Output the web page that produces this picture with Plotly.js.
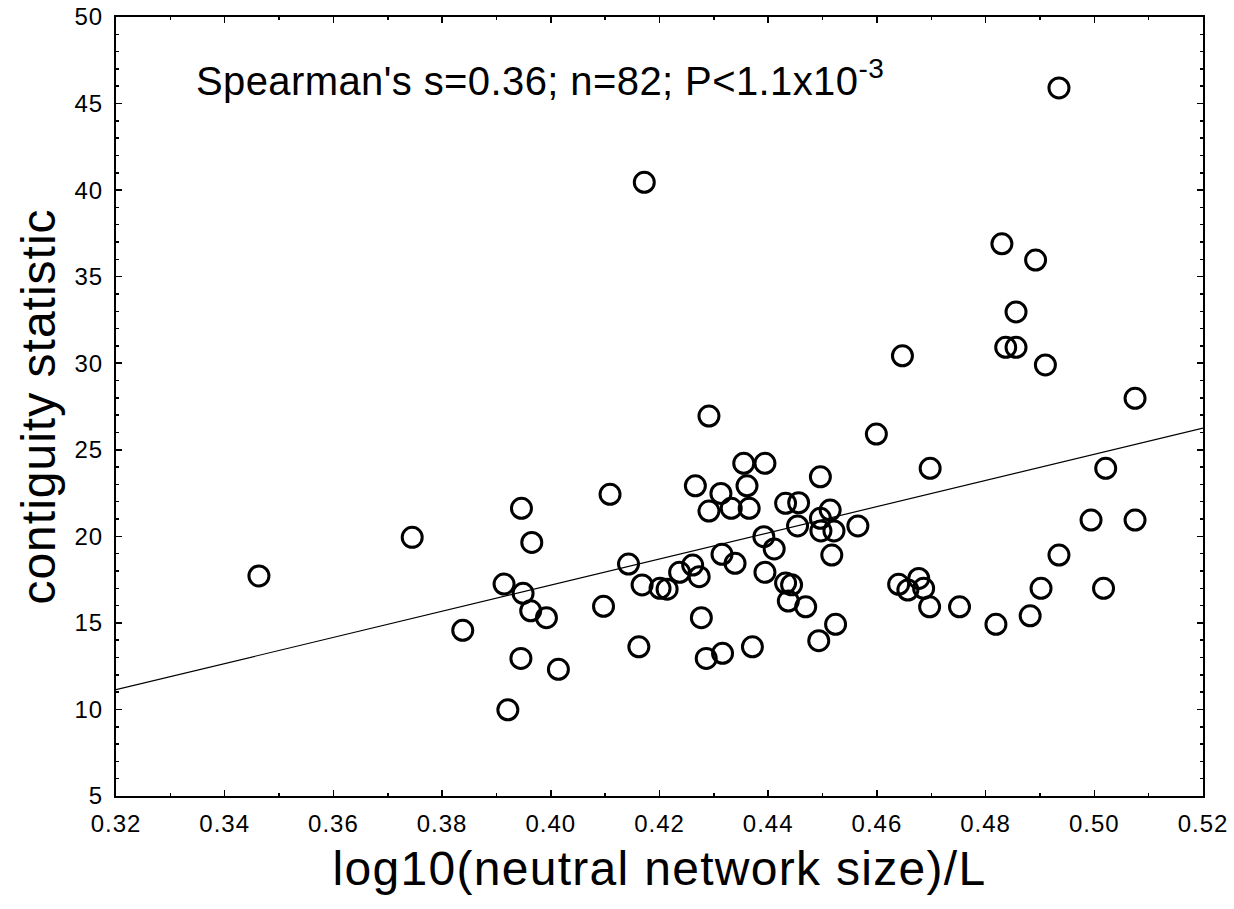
<!DOCTYPE html>
<html>
<head>
<meta charset="utf-8">
<script src="https://cdn.plot.ly/plotly-3.0.1.min.js"></script>
<style>
html,body{margin:0;padding:0;background:#fff;}
#chart{width:1234px;height:909px;}
#chart .xtick text, #chart .ytick text{letter-spacing:1px !important;}
#chart .xtitle{letter-spacing:1.3px !important;}
#chart .ytitle{letter-spacing:1px !important;}
#chart .annotation-text{letter-spacing:0.4px !important;}
</style>
</head>
<body>
<div id="chart"></div>
<script>
// log10(neutral network size)/L
const networkSize = [
  0.4172, 0.3463, 0.3745, 0.3838, 0.3946, 0.3965, 0.3914, 0.3949, 0.3963, 0.3992,
  0.3945, 0.4014, 0.3921, 0.4109, 0.4097, 0.4143, 0.4168, 0.4162, 0.4201, 0.4214,
  0.4830, 0.4892, 0.4856, 0.4837, 0.4856, 0.4910, 0.4647, 0.4291, 0.4599, 0.5075,
  0.4355, 0.4394, 0.4266, 0.4313, 0.4361, 0.4291, 0.4332, 0.4365, 0.4496, 0.4698,
  0.5021, 0.4432, 0.4456, 0.4514, 0.4496, 0.4454, 0.4497, 0.4521, 0.4565, 0.4392,
  0.4411, 0.4517, 0.4315, 0.4339, 0.4261, 0.4237, 0.4273, 0.4394, 0.4432, 0.4443,
  0.4437, 0.4469, 0.4524, 0.4493, 0.4277, 0.4286, 0.4316, 0.4371, 0.4640, 0.4677,
  0.4657, 0.4686, 0.4697, 0.4752, 0.4819, 0.4882, 0.4902, 0.4935, 0.4994, 0.5075,
  0.5017, 0.4935
];
// contiguity statistic
const contiguity = [
  40.45, 17.71, 19.94, 14.57, 21.62, 19.65, 17.24, 16.71, 15.70, 15.30,
  12.95, 12.32, 9.98, 22.43, 15.96, 18.40, 17.19, 13.62, 17.00, 16.95,
  36.90, 35.96, 32.96, 30.92, 30.92, 29.90, 30.43, 26.95, 25.91, 27.97,
  24.22, 24.22, 22.92, 22.48, 22.92, 21.46, 21.62, 21.62, 23.44, 23.93,
  23.93, 21.91, 21.94, 21.52, 21.04, 20.60, 20.31, 20.31, 20.60, 19.98,
  19.27, 18.92, 18.96, 18.44, 18.34, 17.92, 17.67, 17.92, 17.30, 17.20,
  16.26, 15.93, 14.92, 13.97, 15.30, 12.95, 13.24, 13.62, 17.23, 17.57,
  16.90, 17.00, 15.93, 15.93, 14.92, 15.41, 17.00, 18.92, 20.94, 20.94,
  17.00, 45.90
];
// fitted regression line end points
const fitX = [0.32, 0.52];
const fitY = [11.14, 26.25];

const xTicks = [0.32, 0.34, 0.36, 0.38, 0.40, 0.42, 0.44, 0.46, 0.48, 0.50, 0.52];
const xTickText = ['0.32','0.34','0.36','0.38','0.40','0.42','0.44','0.46','0.48','0.50','0.52'];
const yTicks = [5, 10, 15, 20, 25, 30, 35, 40, 45, 50];

const statText = "Spearman's s=0.36; n=82; P&lt;1.1x10<sup>-3</sup>";

const FONT = 'Liberation Sans, Arial, Helvetica, sans-serif';

const traces = [
  {
    x: fitX, y: fitY, type: 'scatter', mode: 'lines',
    line: {color: '#000', width: 1.2}, hoverinfo: 'skip', showlegend: false
  },
  {
    x: networkSize, y: contiguity, type: 'scatter', mode: 'markers',
    marker: {symbol: 'circle-open', size: 20, color: '#000', line: {color: '#000', width: 3}},
    showlegend: false
  }
];

const axisCommon = {
  showgrid: false, zeroline: false, showline: true, linecolor: '#000', linewidth: 2,
  mirror: 'allticks', ticks: 'inside', ticklen: 6, tickwidth: 1.5, tickcolor: '#000',
  tickfont: {family: FONT, size: 24, color: '#000'}
};

const layout = {
  width: 1234, height: 909,
  margin: {l: 116, r: 31, t: 17, b: 113},
  paper_bgcolor: '#fff', plot_bgcolor: '#fff',
  font: {family: FONT, color: '#000'},
  xaxis: Object.assign({}, axisCommon, {
    range: [0.32, 0.52], tickvals: xTicks, ticktext: xTickText,
    ticklabelstandoff: 5,
    minor: {dtick: 0.01, tick0: 0.32, ticks: 'inside', ticklen: 3, tickwidth: 1.5, tickcolor: '#000', showgrid: false},
    title: {text: 'log10(neutral network size)/L', font: {family: FONT, size: 48, color: '#000'}, standoff: 16}
  }),
  yaxis: Object.assign({}, axisCommon, {
    range: [5, 50], tickvals: yTicks,
    ticklabelstandoff: 6,
    minor: {dtick: 1, tick0: 5, ticks: 'inside', ticklen: 3, tickwidth: 1.5, tickcolor: '#000', showgrid: false},
    title: {text: 'contiguity statistic', font: {family: FONT, size: 48, color: '#000'}, standoff: 6}
  }),
  annotations: [{
    x: 0.3357, y: 46.5, xref: 'x', yref: 'y', xanchor: 'left', yanchor: 'middle',
    text: statText, showarrow: false,
    font: {family: FONT, size: 40, color: '#000'}
  }]
};

Plotly.newPlot('chart', traces, layout, {displayModeBar: false, staticPlot: true});
</script>
</body>
</html>
